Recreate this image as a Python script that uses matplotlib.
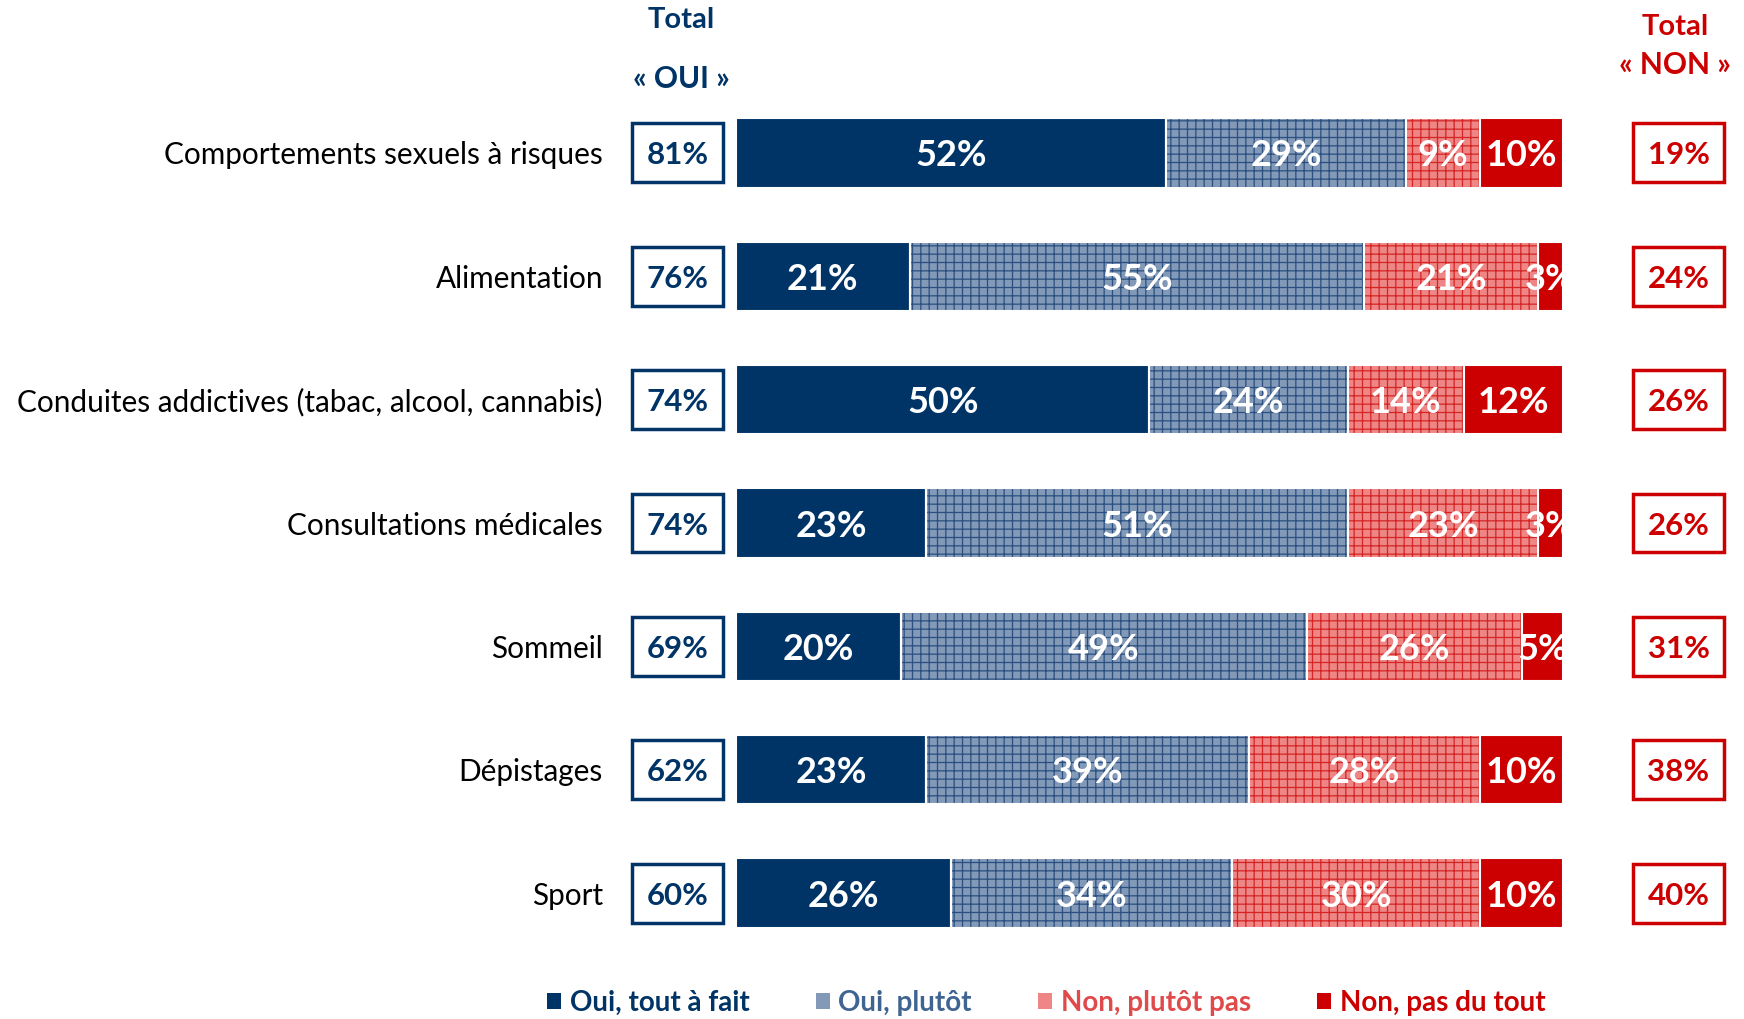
import numpy as np
import matplotlib
matplotlib.use("Agg")
import matplotlib.pyplot as plt
from matplotlib.patches import Rectangle, Patch
import matplotlib.transforms as mtransforms

# ---------------- data ----------------
categories = [
    "Comportements sexuels à risques",
    "Alimentation",
    "Conduites addictives (tabac, alcool, cannabis)",
    "Consultations médicales",
    "Sommeil",
    "Dépistages",
    "Sport",
]
oui_tout_a_fait = [52, 21, 50, 23, 20, 23, 26]
oui_plutot = [29, 55, 24, 51, 49, 39, 34]
non_plutot_pas = [9, 21, 14, 23, 26, 28, 30]
non_pas_du_tout = [10, 3, 12, 3, 5, 10, 10]
total_oui = [81, 76, 74, 74, 69, 62, 60]
total_non = [19, 24, 26, 26, 31, 38, 40]
series_names = ["Oui, tout à fait", "Oui, plutôt", "Non, plutôt pas", "Non, pas du tout"]

# ---------------- style ----------------
NAVY = "#003466"
RED = "#CC0000"
fills = [NAVY, "#8299B8", "#EE8686", RED]
hatch_cols = [None, "#2A4F80", "#D42424", None]
legend_txt = [NAVY, "#3F6491", "#E04A4A", RED]

plt.rcParams["font.family"] = ["Lato", "DejaVu Sans"]
plt.rcParams["hatch.linewidth"] = 0.9

fig = plt.figure(figsize=(17.44, 10.19), dpi=100)
ax = fig.add_axes([0.422, 0.0631, 0.4742, 0.8473])

y = np.arange(len(categories))
series = [oui_tout_a_fait, oui_plutot, non_plutot_pas, non_pas_du_tout]
bar_h = 0.56

left = np.zeros(len(categories))
for vals, fc, hc in zip(series, fills, hatch_cols):
    vals = np.array(vals, dtype=float)
    if hc is None:
        ax.barh(y, vals, left=left, height=bar_h, color=fc, linewidth=0)
    else:
        ax.barh(y, vals, left=left, height=bar_h, color=fc,
                edgecolor=hc, hatch="++", linewidth=0)
    # white separators between segments
    ax.barh(y, vals, left=left, height=bar_h, facecolor="none",
            edgecolor="white", linewidth=1.5)
    for yi, l, v in zip(y, left, vals):
        ax.text(l + v / 2, yi, f"{int(v)}%", ha="center", va="center_baseline",
                color="white", fontsize=26, fontweight="bold", clip_on=True)
    left += vals

ax.set_xlim(0, 100)
ax.set_ylim(len(categories) - 0.5, -0.5)
ax.axis("off")

trans = mtransforms.blended_transform_factory(ax.transAxes, ax.transData)
box_w = 0.110
box_h = 0.478
for yi, cat, to, tn in zip(y, categories, total_oui, total_non):
    ax.text(-0.1608, yi, cat, transform=trans, ha="right", va="center_baseline",
            fontsize=21.4, color="black", clip_on=False)
    ax.add_patch(Rectangle((-0.1258, yi - box_h / 2), box_w, box_h,
                           transform=trans, facecolor="white",
                           edgecolor=NAVY, linewidth=2.5, clip_on=False))
    ax.text(-0.1258 + box_w / 2, yi, f"{to}%", transform=trans,
            ha="center", va="center_baseline", fontsize=22.5, fontweight="bold",
            color=NAVY, clip_on=False)
    ax.add_patch(Rectangle((1.0847, yi - box_h / 2), box_w, box_h,
                           transform=trans, facecolor="white",
                           edgecolor=RED, linewidth=2.5, clip_on=False))
    ax.text(1.0847 + box_w / 2, yi, f"{tn}%", transform=trans,
            ha="center", va="center_baseline", fontsize=22.5, fontweight="bold",
            color=RED, clip_on=False)

# headers
fig.text(0.3905, 0.980, "Total", ha="center", va="center", fontsize=21,
         fontweight="bold", color=NAVY)
fig.text(0.3905, 0.922, "« OUI »", ha="center", va="center", fontsize=21.5,
         fontweight="bold", color=NAVY)
fig.text(0.9604, 0.9735, "Total", ha="center", va="center", fontsize=21,
         fontweight="bold", color=RED)
fig.text(0.9604, 0.936, "« NON »", ha="center", va="center", fontsize=21.5,
         fontweight="bold", color=RED)

# legend
handles = [Patch(facecolor=c, edgecolor="none") for c in fills]
leg = fig.legend(handles, series_names, loc="center",
                 bbox_to_anchor=(0.6, 0.016), ncol=4, frameon=False,
                 handlelength=0.5, handleheight=0.5, handletextpad=0.3,
                 columnspacing=2.4, prop={"size": 20, "weight": "bold"})
for t, c in zip(leg.get_texts(), legend_txt):
    t.set_color(c)

fig.savefig("out.png", dpi=100)
